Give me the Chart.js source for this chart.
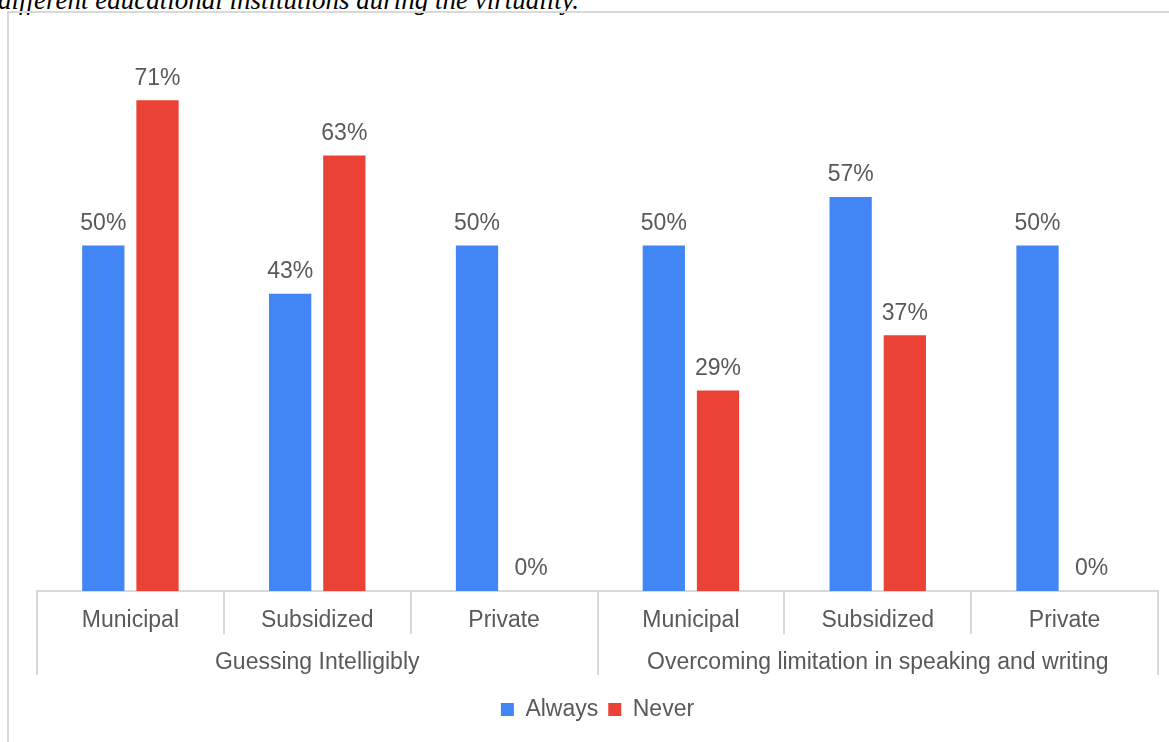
<!DOCTYPE html>
<html>
<head>
<meta charset="utf-8">
<script src="https://cdn.jsdelivr.net/npm/chart.js@4/dist/chart.umd.min.js"></script>
<style>
  html, body { margin: 0; padding: 0; background: #fff; overflow: hidden; }
  #caption {
    position: absolute; left: -2px; top: -13px;
    font: italic 27px "Liberation Serif", "Times New Roman", serif;
    line-height: 27px; color: #000; white-space: nowrap;
  }
  #frame {
    position: absolute; left: 7px; top: 11px; width: 1200px; height: 800px;
    border-left: 2px solid #d9d9d9; border-top: 2px solid #d9d9d9;
  }
  #wrap { position: absolute; left: 0; top: 0; width: 1169px; height: 742px; }
</style>
</head>
<body>
<div id="caption">different educational institutions during the virtuality.</div>
<div id="frame"></div>
<div id="wrap"><canvas id="chart"></canvas></div>
<script>
const institutions = ['Municipal', 'Subsidized', 'Private', 'Municipal', 'Subsidized', 'Private'];
const strategies = ['Guessing Intelligibly', 'Overcoming limitation in speaking and writing'];
const always = [50, 43, 50, 50, 57, 50];
const never = [71, 63, 0, 29, 37, 0];

const textColor = '#595959';
const lineColor = '#d9d9d9';
const fontFamily = 'Arial, "Liberation Sans", sans-serif';

// percent labels above each bar
const barLabels = {
  id: 'barLabels',
  afterDatasetsDraw(chart) {
    const ctx = chart.ctx;
    ctx.save();
    ctx.font = '23px ' + fontFamily;
    ctx.fillStyle = textColor;
    ctx.textAlign = 'center';
    ctx.textBaseline = 'middle';
    chart.data.datasets.forEach((ds, i) => {
      chart.getDatasetMeta(i).data.forEach((bar, j) => {
        ctx.fillText(ds.data[j] + '%', bar.x, bar.y - 22);
      });
    });
    ctx.restore();
  }
};

new Chart(document.getElementById('chart'), {
  type: 'bar',
  data: {
    labels: institutions,
    datasets: [
      { label: 'Always', data: always, backgroundColor: '#4285f4' },
      { label: 'Never', data: never, backgroundColor: '#ea4335' }
    ]
  },
  options: {
    responsive: true,
    maintainAspectRatio: false,
    animation: false,
    categoryPercentage: 0.58,
    barPercentage: 0.78,
    layout: { padding: { left: 37, right: 11, top: 38, bottom: 11 } },
    scales: {
      y: { display: false, min: 0, max: 80 },
      x: {
        weight: 0,
        grid: { offset: true, drawOnChartArea: false, tickLength: 43, color: lineColor, lineWidth: 2 },
        border: { display: true, color: lineColor, width: 2 },
        ticks: { padding: -27, color: textColor, font: { size: 23, family: fontFamily } },
        afterFit: (scale) => { scale.height = 43; }
      },
      x2: {
        type: 'category',
        position: 'bottom',
        weight: 1,
        labels: strategies,
        grid: { offset: true, drawOnChartArea: false, tickLength: 41, color: lineColor, lineWidth: 2 },
        border: { display: false },
        ticks: { padding: -26, color: textColor, font: { size: 23, family: fontFamily } },
        afterFit: (scale) => { scale.height = 54; }
      }
    },
    plugins: {
      legend: {
        position: 'bottom',
        labels: {
          boxWidth: 13, boxHeight: 13, padding: 10,
          color: textColor, font: { size: 23, family: fontFamily }
        }
      },
      tooltip: { enabled: false }
    }
  },
  plugins: [barLabels]
});
</script>
</body>
</html>
